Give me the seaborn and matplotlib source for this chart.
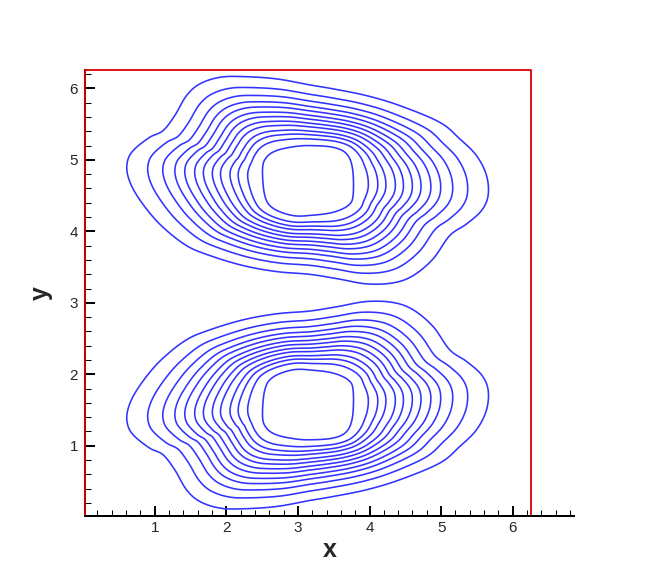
import numpy as np
import matplotlib
matplotlib.use("Agg")
import matplotlib.pyplot as plt
from matplotlib.ticker import MultipleLocator
import seaborn as sns

# data domain (axes are fitted to it, x axis runs a bit further)
x_min, x_max = 0.025, 6.258
y_min, y_max = 0.025, 6.258
x_axis_end = 6.86

# centre of the lower vortex; the upper one is its mirror image about y = pi
center_x = 3.14
center_y = 1.575

# outermost contour of the lower vortex, offsets from the centre
outer_u = [0.026, -0.44, -0.905, -1.37, -1.696, -2.023, -2.255, -2.442, -2.525, -2.511,
           -2.418, -2.21, -2.023, -1.86, -1.696, -1.51, -1.231, -0.905, -0.44, 0.026,
           0.354, 0.42, 0.818, 1.19, 1.47, 1.748, 1.98, 2.215, 2.424, 2.516, 2.494, 2.354,
           2.12, 1.84, 1.28, 0.818]
outer_v = [1.31, 1.271, 1.187, 1.047, 0.908, 0.652, 0.395, 0.115, -0.118, -0.305,
           -0.445, -0.607, -0.701, -0.911, -1.19, -1.354, -1.446, -1.456, -1.424, -1.34,
           -1.284, 1.373, 1.443, 1.429, 1.327, 1.093, 0.768, 0.605, 0.418, 0.208, -0.072, -0.351,
           -0.585, -0.817, -1.051, -1.19]

# innermost contour of the lower vortex
inner_u = [-0.207, -0.486, -0.602, -0.634, -0.579, -0.44, -0.2, 0.026,
           0.35, 0.07, 0.56, 0.63, 0.623, 0.54, 0.35]
inner_v = [0.488, 0.386, 0.208, -0.165, -0.327, -0.421, -0.475, -0.491,
           0.442, 0.482, 0.348, 0.208, -0.165, -0.375, -0.467]

# where each of the 13 contours sits between the innermost (0) and outermost (1) one
level_fraction = [0.0, 0.11, 0.18, 0.24, 0.31, 0.37, 0.436, 0.50, 0.573, 0.646, 0.735, 0.846, 1.0]


def radius_curve(u, v):
    # closed smooth curve (Catmull-Rom) through the read points, as r(phi)
    u, v = np.asarray(u), np.asarray(v)
    order = np.argsort(np.arctan2(v, u))
    p = np.column_stack([u[order], v[order]])
    t = np.linspace(0, 1, 30, endpoint=False)[:, None]
    pieces = []
    for i in range(len(p)):
        p0, p1, p2, p3 = p[i - 1], p[i], p[(i + 1) % len(p)], p[(i + 2) % len(p)]
        pieces.append(0.5 * (2 * p1 + (p2 - p0) * t + (2 * p0 - 5 * p1 + 4 * p2 - p3) * t ** 2
                             + (3 * p1 - p0 - 3 * p2 + p3) * t ** 3))
    c = np.vstack(pieces)
    phi = np.arctan2(c[:, 1], c[:, 0])
    r = np.hypot(c[:, 0], c[:, 1])
    return lambda a: np.interp(a, phi, r, period=2 * np.pi)


outer_r = radius_curve(outer_u, outer_v)
inner_r = radius_curve(inner_u, inner_v)

gx = np.linspace(x_min, x_max, 700)
gy = np.linspace(y_min, y_max, 700)
X, Y = np.meshgrid(gx, gy)


def vortex(cy, flip):
    u = X - center_x
    v = (Y - cy) * flip
    phi = np.arctan2(v, u)
    r = np.hypot(u, v)
    r_in = inner_r(phi)
    r_out = outer_r(phi)
    return (r - r_in) / (r_out - r_in)


field = np.minimum(vortex(center_y, 1), vortex(2 * np.pi - center_y, -1))

#%%
sns.set_style("white")
plt.rcParams['font.family'] = ['Liberation Sans', 'DejaVu Sans']

fig = plt.figure(figsize=(6.54, 5.81), dpi=100)
ax = fig.add_axes([84.9 / 654, (581 - 515.5) / 581, (574.3 - 84.9) / 654, 445.6 / 581])

ax.contour(X, Y, field, levels=level_fraction, colors='#3333ff', linewidths=1.15)

# domain boundary
ax.plot([x_min, x_max, x_max, x_min, x_min], [y_min, y_min, y_max, y_max, y_min],
        color='#dd0000', lw=1.3, clip_on=False, zorder=4)

ax.set_xlim(x_min, x_axis_end)
ax.set_ylim(y_min, y_max)

for side in ['top', 'right']:
    ax.spines[side].set_visible(False)
for side in ['left', 'bottom']:
    ax.spines[side].set_color('black')
    ax.spines[side].set_linewidth(1.45)
ax.spines['bottom'].set_zorder(5)

ax.xaxis.set_major_locator(MultipleLocator(1))
ax.xaxis.set_minor_locator(MultipleLocator(0.2))
ax.yaxis.set_major_locator(MultipleLocator(1))
ax.yaxis.set_minor_locator(MultipleLocator(0.2))
ax.tick_params(which='major', direction='in', length=7.2, width=1.45, color='black',
               labelsize=11, left=True, bottom=True)
ax.tick_params(which='minor', direction='in', length=4.1, width=0.75, color='black',
               left=True, bottom=True)
ax.tick_params(axis='y', which='major', pad=5)
ax.tick_params(axis='x', which='major', pad=4)

ax.set_xlabel('x', fontsize=18, fontweight='bold', labelpad=2)
ax.set_ylabel('y', fontsize=18, fontweight='bold', labelpad=12)

fig.savefig('out.png', dpi=100, facecolor='white')
